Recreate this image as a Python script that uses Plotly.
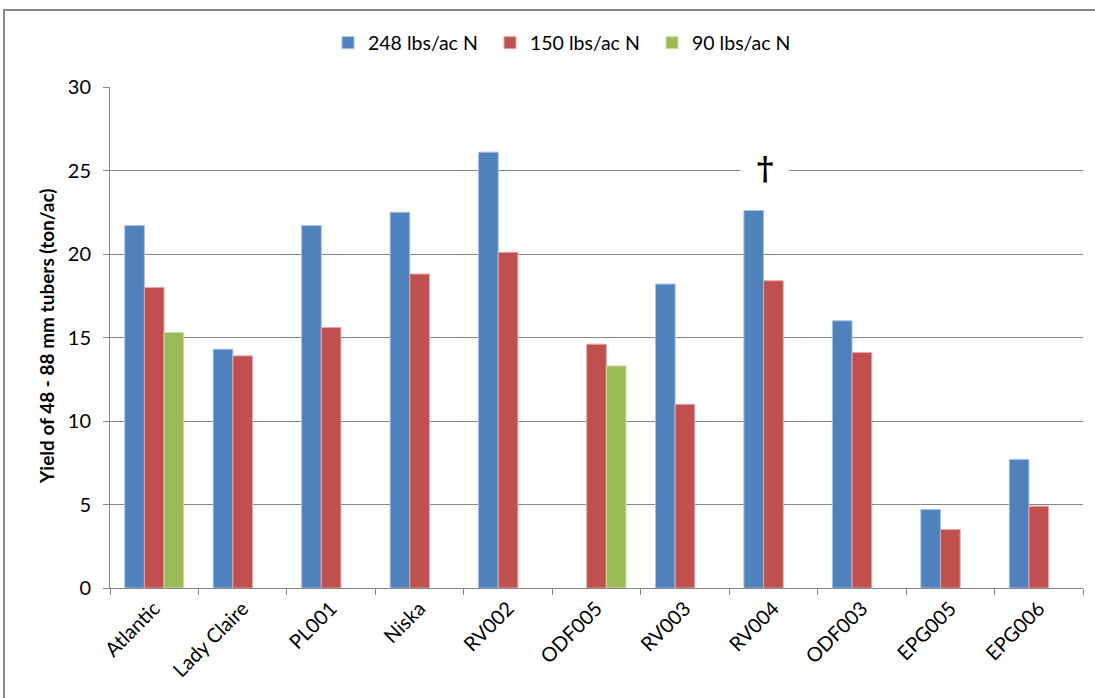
import plotly.graph_objects as go

# Potato clones / varieties
varieties = ["Atlantic", "Lady Claire", "PL001", "Niska", "RV002", "ODF005",
             "RV003", "RV004", "ODF003", "EPG005", "EPG006"]

# Yield of 48 - 88 mm tubers (ton/ac) by nitrogen rate
n248 = [21.7, 14.3, 21.7, 22.5, 26.1, None, 18.2, 22.6, 16.0, 4.7, 7.7]
n150 = [18.0, 13.9, 15.6, 18.8, 20.1, 14.6, 11.0, 18.4, 14.1, 3.5, 4.9]
n90 = [15.3, None, None, None, None, 13.3, None, None, None, None, None]

series_names = ["248 lbs/ac N", "150 lbs/ac N", "90 lbs/ac N"]
y_ticks = [0, 5, 10, 15, 20, 25, 30]

W, H = 1095, 698
L, R, T, B = 110, 12, 87, 110
pw, ph = W - L - R, H - T - B


def px_x(p):
    return (p - L) / pw


def px_y(p):
    return (H - B - p) / ph


font = "Lato, 'Open Sans', sans-serif"

fig = go.Figure()
for name, vals, col, edge in [
    (series_names[0], n248, "#4F81BD", "#A9C1DF"),
    (series_names[1], n150, "#C0504D", "#E0A8A6"),
    (series_names[2], n90, "#9BBB59", "#CDDDAC"),
]:
    fig.add_trace(go.Bar(
        x=varieties, y=vals, name=name,
        marker=dict(color=col, line=dict(color=edge, width=1)),
    ))

fig.update_layout(
    width=W, height=H,
    margin=dict(l=L, r=R, t=T, b=B),
    paper_bgcolor="white", plot_bgcolor="white",
    barmode="group", bargap=1.5 / 4.5, bargroupgap=0,
    font=dict(family=font, size=19, color="#000000"),
    showlegend=True,
    legend=dict(
        orientation="h", x=px_x(328), xanchor="left",
        y=px_y(43), yanchor="middle",
        font=dict(size=19.5), itemwidth=30, traceorder="normal",
        entrywidth=117, entrywidthmode="pixels",
    ),
    xaxis=dict(
        type="category", tickangle=-45, tickson="boundaries",
        ticks="outside", ticklen=6, tickcolor="#868686",
        showline=True, linecolor="#868686", linewidth=1,
        showgrid=False, tickfont=dict(size=20),
    ),
    yaxis=dict(
        range=[0, 30], tickvals=y_ticks, ticks="outside", ticklen=6,
        tickcolor="#868686", showline=True, linecolor="#868686", linewidth=1,
        showgrid=True, gridcolor="#868686", gridwidth=1, zeroline=False,
        tickfont=dict(size=20), ticklabelstandoff=8,
    ),
)

# y-axis title
fig.add_annotation(
    text="<b>Yield of 48 - 88 mm tubers (ton/ac)</b>",
    xref="paper", yref="paper", x=px_x(46), y=px_y(336),
    textangle=-90, showarrow=False, font=dict(size=19),
    xanchor="center", yanchor="middle",
)

# dagger marker above RV004
fig.add_annotation(
    text="<b>†</b>", x="RV004", y=25, xref="x", yref="y",
    xshift=-8, yshift=3, showarrow=False, bgcolor="white",
    font=dict(size=32, family="DejaVu Serif"), borderpad=2,
    width=44,
)

# outer chart frame
fig.add_shape(
    type="rect", xref="paper", yref="paper",
    x0=px_x(4), x1=px_x(1105), y0=px_y(10), y1=px_y(710),
    line=dict(color="#888888", width=2), fillcolor="rgba(0,0,0,0)",
    layer="below",
)

fig.write_html("out.html")
